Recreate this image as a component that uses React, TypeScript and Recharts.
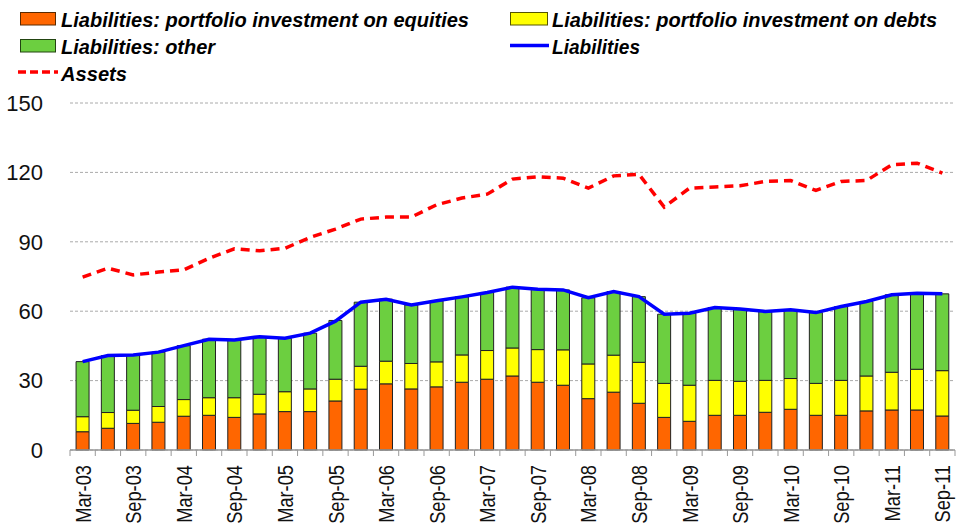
import React from 'react'
import { Bar, CartesianGrid, ComposedChart, Line, XAxis, YAxis } from 'recharts'

const quarters = [
  'Mar-03', 'Jun-03', 'Sep-03', 'Dec-03', 'Mar-04', 'Jun-04', 'Sep-04', 'Dec-04',
  'Mar-05', 'Jun-05', 'Sep-05', 'Dec-05', 'Mar-06', 'Jun-06', 'Sep-06', 'Dec-06',
  'Mar-07', 'Jun-07', 'Sep-07', 'Dec-07', 'Mar-08', 'Jun-08', 'Sep-08', 'Dec-08',
  'Mar-09', 'Jun-09', 'Sep-09', 'Dec-09', 'Mar-10', 'Jun-10', 'Sep-10', 'Dec-10',
  'Mar-11', 'Jun-11', 'Sep-11'
]

const equities = [
  7.9, 9.4, 11.5, 12.0, 14.6, 15.0, 14.1, 15.6, 16.6, 16.6, 21.2, 26.3, 28.6, 26.4, 27.3, 29.3, 30.6, 32.0,
  29.3, 28.0, 22.2, 25.0, 20.2, 14.1, 12.4, 15.0, 15.0, 16.3, 17.6, 15.0, 15.0, 16.9, 17.3, 17.3, 14.7
]

const debts = [
  6.5, 6.8, 5.7, 6.8, 7.2, 7.6, 8.5, 8.5, 8.6, 9.8, 9.4, 9.9, 9.8, 11.0, 10.8, 11.8, 12.4, 12.1,
  14.1, 15.3, 15.0, 16.0, 17.7, 14.7, 15.6, 15.1, 14.7, 13.8, 13.3, 13.8, 15.1, 15.1, 16.3, 17.6, 19.6
]

const other = [
  23.8, 24.6, 23.9, 23.5, 23.3, 25.3, 25.0, 24.9, 23.1, 24.1, 25.4, 27.7, 26.8, 25.3, 26.4, 25.1, 25.1, 26.3,
  26.1, 25.9, 28.6, 27.5, 28.4, 29.9, 31.1, 31.5, 31.2, 29.8, 29.7, 30.6, 31.9, 32.2, 33.5, 32.9, 33.2
]

const liabilities = [
  38.2, 40.8, 41.1, 42.3, 45.1, 47.9, 47.6, 49.0, 48.3, 50.5, 55.7, 63.9, 65.2, 62.7, 64.5, 66.2, 68.1, 70.4,
  69.5, 69.2, 65.8, 68.5, 66.3, 58.7, 59.1, 61.6, 60.9, 59.9, 60.6, 59.4, 62.0, 64.2, 67.1, 67.8, 67.5
]

const assets = [
  74.7, 78.6, 75.7, 76.9, 77.9, 82.9, 87.0, 86.1, 87.2, 91.9, 95.5, 99.8, 100.7, 100.7, 106.0, 108.9, 110.6, 117.1,
  118.1, 117.5, 113.2, 118.5, 119.2, 105.0, 113.2, 113.7, 114.2, 116.1, 116.5, 112.2, 116.1, 116.5, 123.3, 124.0, 119.7
]

const yTicks = [0, 30, 60, 90, 120, 150]

const labels = {
  equities: 'Liabilities: portfolio investment on equities',
  debts: 'Liabilities: portfolio investment on debts',
  other: 'Liabilities: other',
  liabilities: 'Liabilities',
  assets: 'Assets'
}

const W = 965
const H = 527
const PLOT_LEFT = 70
const PLOT_RIGHT = 10
const BAND = (W - PLOT_LEFT - PLOT_RIGHT) / quarters.length
const FONT = "'Liberation Sans', Arial, sans-serif"

const data = quarters.map((q, i) => ({
  q,
  equities: equities[i],
  debts: debts[i],
  other: other[i],
  liabilities: liabilities[i],
  assets: assets[i]
}))

function XTick(props: any) {
  const { x, y, payload, index } = props
  const last = index === quarters.length - 1
  return (
    <g>
      <line x1={x - BAND / 2} y1={y} x2={x - BAND / 2} y2={y + 6} stroke="#999" />
      {last && <line x1={x + BAND / 2} y1={y} x2={x + BAND / 2} y2={y + 6} stroke="#999" />}
      {index % 2 === 0 && (
        <text
          transform={`translate(${x + 8},${y + 15}) rotate(-90) scale(0.83,1)`}
          textAnchor="end"
          fontSize={22}
          fontFamily={FONT}
          fill="#111"
        >
          {payload.value}
        </text>
      )}
    </g>
  )
}

const legendFont = "'Liberation Sans', Arial, sans-serif"

function LegendBox() {
  const text = (x: number, y: number, len: number, s: string) => (
    <text x={x} y={y} fontSize={21} fontStyle="italic" fontWeight="bold" fontFamily={legendFont} fill="#000"
      textLength={len} lengthAdjust="spacingAndGlyphs">
      {s}
    </text>
  )
  return (
    <svg width={W} height={95} style={{ position: 'absolute', left: 0, top: 0 }}>
      <rect x={20.5} y={12.5} width={35} height={12.5} fill="#FF6600" stroke="#5a2a00" />
      {text(61, 26.5, 408, labels.equities)}
      <rect x={510.5} y={12.5} width={37} height={12.5} fill="#FFFF00" stroke="#555500" />
      {text(552, 26.5, 385, labels.debts)}
      <rect x={20.5} y={39.5} width={35} height={12.5} fill="#6CCF40" stroke="#224411" />
      {text(61, 53.5, 154, labels.other)}
      <line x1={510} y1={45.5} x2={549} y2={45.5} stroke="#0000FF" strokeWidth={3.5} />
      {text(552, 53.5, 88, labels.liabilities)}
      <line x1={18} y1={72} x2={58} y2={72} stroke="#FF0000" strokeWidth={3.5} strokeDasharray="8 4" />
      {text(61, 80.5, 66, labels.assets)}
    </svg>
  )
}

export default function App() {
  return (
    <div style={{ position: 'absolute', left: 0, top: 0, width: W, height: H, background: '#fff' }}>
      <ComposedChart
        width={W}
        height={H}
        data={data}
        margin={{ top: 103, right: PLOT_RIGHT, bottom: 0, left: 0 }}
        barCategoryGap="24%"
      >
        <CartesianGrid vertical={false} stroke="#aaa" strokeDasharray="3 2" />
        <XAxis
          dataKey="q"
          interval={0}
          height={77}
          tickSize={0}
          tickMargin={0}
          tickLine={false}
          axisLine={{ stroke: '#999', strokeWidth: 1.5 }}
          tick={<XTick />}
        />
        <YAxis
          width={PLOT_LEFT}
          domain={[0, 150]}
          ticks={yTicks}
          axisLine={false}
          tickLine={false}
          tickSize={0}
          tickMargin={27}
          tick={{ fill: '#111', fontSize: 22, fontFamily: FONT }}
        />
        <Bar dataKey="equities" stackId="l" fill="#FF6600" stroke="#222" strokeWidth={1} isAnimationActive={false} />
        <Bar dataKey="debts" stackId="l" fill="#FFFF00" stroke="#222" strokeWidth={1} isAnimationActive={false} />
        <Bar dataKey="other" stackId="l" fill="#6CCF40" stroke="#222" strokeWidth={1} isAnimationActive={false} />
        <Line dataKey="liabilities" type="linear" stroke="#0000FF" strokeWidth={3.5} dot={false} isAnimationActive={false} />
        <Line dataKey="assets" type="linear" stroke="#FF0000" strokeWidth={3.5} strokeDasharray="9 6" dot={false} isAnimationActive={false} />
      </ComposedChart>
      <LegendBox />
    </div>
  )
}
